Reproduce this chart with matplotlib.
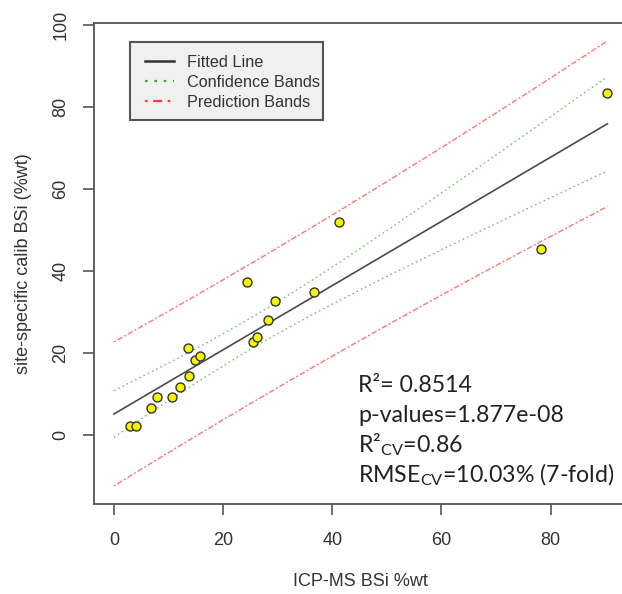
import numpy as np
import matplotlib
matplotlib.use("Agg")
import matplotlib.pyplot as plt
from matplotlib.lines import Line2D
from matplotlib.patches import Rectangle

# ---- data ----
icp_bsi = [2.9, 4.0, 6.7, 7.8, 10.6, 12.1, 13.8, 14.9, 15.7, 13.6,
           25.4, 26.2, 28.2, 29.5, 36.6, 24.3, 41.3, 78.2, 90.4]
calib_bsi = [2.1, 2.1, 6.5, 9.3, 9.3, 11.6, 14.3, 18.2, 19.3, 21.2,
             22.6, 23.9, 28.0, 32.7, 34.7, 37.2, 51.8, 45.3, 83.5]
x_ticks = [0, 20, 40, 60, 80]
y_ticks = [0, 20, 40, 60, 80, 100]
t_crit = 2.1098  # t(0.975, df=17)
stats_lines = ["R²= 0.8514", "p-values=1.877e-08",
               "R²$_\\mathregular{CV}$=0.86", "RMSE$_\\mathregular{CV}$=10.03% (7-fold)"]
legend_labels = ["Fitted Line", "Confidence Bands", "Prediction Bands"]

x = np.array(icp_bsi)
y = np.array(calib_bsi)
n = len(x)
b1, b0 = np.polyfit(x, y, 1)
res = y - (b0 + b1 * x)
s = np.sqrt(np.sum(res ** 2) / (n - 2))
sxx = np.sum((x - x.mean()) ** 2)
xg = np.linspace(0, x.max(), 300)
yg = b0 + b1 * xg
se_c = s * np.sqrt(1.0 / n + (xg - x.mean()) ** 2 / sxx)
se_p = s * np.sqrt(1 + 1.0 / n + (xg - x.mean()) ** 2 / sxx)

W, H = 622, 594
fig = plt.figure(figsize=(W / 100, H / 100), dpi=100)
L, R, T, B = 94.3, 627.0, 23.3, 504.3
ax = fig.add_axes([L / W, 1 - B / H, (R - L) / W, (B - T) / H])

axis_font = "Liberation Sans"
green = "#3aa83a"
red = "#ff3b3b"

ax.plot(xg, yg + t_crit * se_p, color=red, lw=1.0, alpha=0.7, dashes=(1.5, 1.5, 4, 1.5))
ax.plot(xg, yg - t_crit * se_p, color=red, lw=1.0, alpha=0.7, dashes=(1.5, 1.5, 4, 1.5))
ax.plot(xg, yg + t_crit * se_c, color=green, lw=1.0, alpha=0.7, dashes=(1.2, 2.2))
ax.plot(xg, yg - t_crit * se_c, color=green, lw=1.0, alpha=0.7, dashes=(1.2, 2.2))
ax.plot(xg, yg, color="#4a4a4a", lw=1.2)
ax.scatter(x, y, s=42, facecolor="#f5f500", edgecolor="#333333", linewidth=1.0, zorder=5)

ax.set_xlim(-3.6, 94.0)
ax.set_ylim(-17.0, 100.4)
ax.set_xticks(x_ticks)
ax.set_yticks(y_ticks)
ax.set_xticklabels([str(v) for v in x_ticks], fontfamily=axis_font, fontsize=13, color="#333333")
ax.set_yticklabels([str(v) for v in y_ticks], fontfamily=axis_font, fontsize=13, color="#333333",
                   rotation=90, va="center")
ax.tick_params(axis="x", length=8, width=1.2, color="#555555", pad=12)
ax.tick_params(axis="y", length=8, width=1.2, color="#555555", pad=10)
for sp in ax.spines.values():
    sp.set_color("#555555")
    sp.set_linewidth(1.3)

ax.set_xlabel("ICP-MS BSi %wt", fontfamily=axis_font, fontsize=13, color="#333333", va="center")
ax.xaxis.set_label_coords(0.5, (B - 581.5) / (B - T))
ax.set_ylabel("site-specific calib BSi (%wt)", fontfamily=axis_font, fontsize=13, color="#333333",
              va="center")
ax.yaxis.set_label_coords((24 - L) / (R - L), 0.5)

# legend box (R-style, asymmetric padding)
ax.add_patch(Rectangle((130 / W, 1 - 120 / H), (323 - 130) / W, (120 - 41.7) / H,
                       transform=fig.transFigure, facecolor="#f0f0f0", clip_on=False,
                       edgecolor="#555555", linewidth=1.5, zorder=8))
handles = [Line2D([], [], color="#333333", lw=1.8),
           Line2D([], [], color=green, lw=1.6, dashes=(1.2, 3)),
           Line2D([], [], color=red, lw=1.6, dashes=(1.2, 2.5, 4, 2.5))]
leg = ax.legend(handles, legend_labels, loc="upper left",
                bbox_to_anchor=(145 / W, 1 - 55 / H), bbox_transform=fig.transFigure,
                prop={"family": axis_font, "size": 11.7}, frameon=False,
                handlelength=1.8, handletextpad=0.8, labelspacing=0.3, borderpad=0,
                borderaxespad=0)
leg.set_zorder(10)
for t in leg.get_texts():
    t.set_color("#333333")

plt.rcParams["mathtext.fontset"] = "custom"
for i, line in enumerate(stats_lines):
    fig.text(358 / W, 1 - (391.7 + i * 30) / H, line, fontfamily="Lato", fontsize=16.7,
             color="#222222", ha="left", va="baseline")

fig.savefig("out.png", dpi=100)
